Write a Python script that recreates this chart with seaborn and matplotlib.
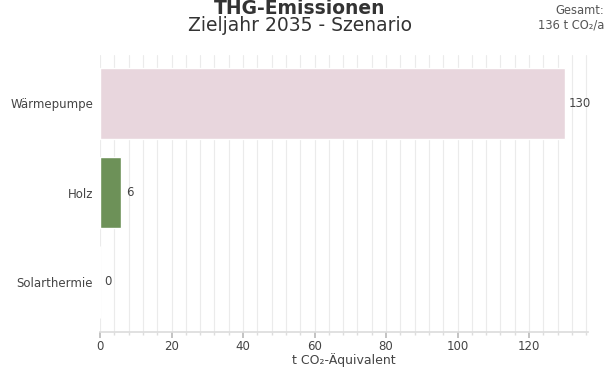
import pandas as pd
import seaborn as sns
import matplotlib.pyplot as plt
from matplotlib.ticker import MultipleLocator

kategorien = ['Wärmepumpe', 'Holz', 'Solarthermie']
emissionen = [130, 6, 0]
farben = ['#EBD3DC', '#6A9A4F', '#F2C14E']
gesamt = sum(emissionen)

df = pd.DataFrame({'Kategorie': kategorien, 'Wert': emissionen})

sns.set_theme(style="white")
plt.rcParams['font.family'] = ['DejaVu Sans']

fig = plt.figure(figsize=(6.14, 3.69), dpi=100)
ax = fig.add_axes([100 / 614, 1 - 332 / 369, 488 / 614, 277 / 369])

sns.barplot(data=df, y='Kategorie', x='Wert', hue='Kategorie', palette=farben,
            orient='h', width=0.8, legend=False, ax=ax, zorder=2)

# Werte rechts neben den Balken
for i, v in enumerate(emissionen):
    ax.text(v + 1.2, i, f'{v:g}', va='center', ha='left', fontsize=8.5, color='#444444')

ax.set_xlim(0, max(emissionen) * 1.05)
ax.set_ylim(2.56, -0.54)
ax.xaxis.set_major_locator(MultipleLocator(20))
ax.xaxis.set_minor_locator(MultipleLocator(4))
ax.grid(True, axis='x', which='both', color='#EBEBEB', linewidth=0.8, zorder=0)
ax.set_axisbelow(True)

for s in ['top', 'right', 'left']:
    ax.spines[s].set_visible(False)
ax.spines['bottom'].set_color('#DDDDDD')
ax.tick_params(axis='x', which='major', bottom=True, length=4, color='#BBBBBB',
               labelsize=8.5, labelcolor='#444444', pad=2)
ax.tick_params(axis='x', which='minor', bottom=True, length=2, color='#DDDDDD')
ax.tick_params(axis='y', left=False, length=0, labelsize=8.5, labelcolor='#444444', pad=5)

ax.set_ylabel('')
ax.set_xlabel('t CO₂-Äquivalent', fontsize=9, color='#444444')
ax.xaxis.set_label_coords(0.5, -(369 - 332 - 2) / 277, transform=ax.transAxes)
ax.xaxis.label.set_va('bottom')

fig.text(300 / 614, 1 - 14 / 369, 'THG-Emissionen', ha='center', va='baseline',
         fontsize=13.5, fontweight='bold', color='#333333')
fig.text(300 / 614, 1 - 31 / 369, 'Zieljahr 2035 - Szenario', ha='center', va='baseline',
         fontsize=13.5, color='#333333')
fig.text(604 / 614, 1 - 4 / 369, f'Gesamt:\n{gesamt} t CO₂/a', ha='right', va='top',
         fontsize=8.3, color='#555555', linespacing=1.15)

plt.savefig('out.png', dpi=100)
